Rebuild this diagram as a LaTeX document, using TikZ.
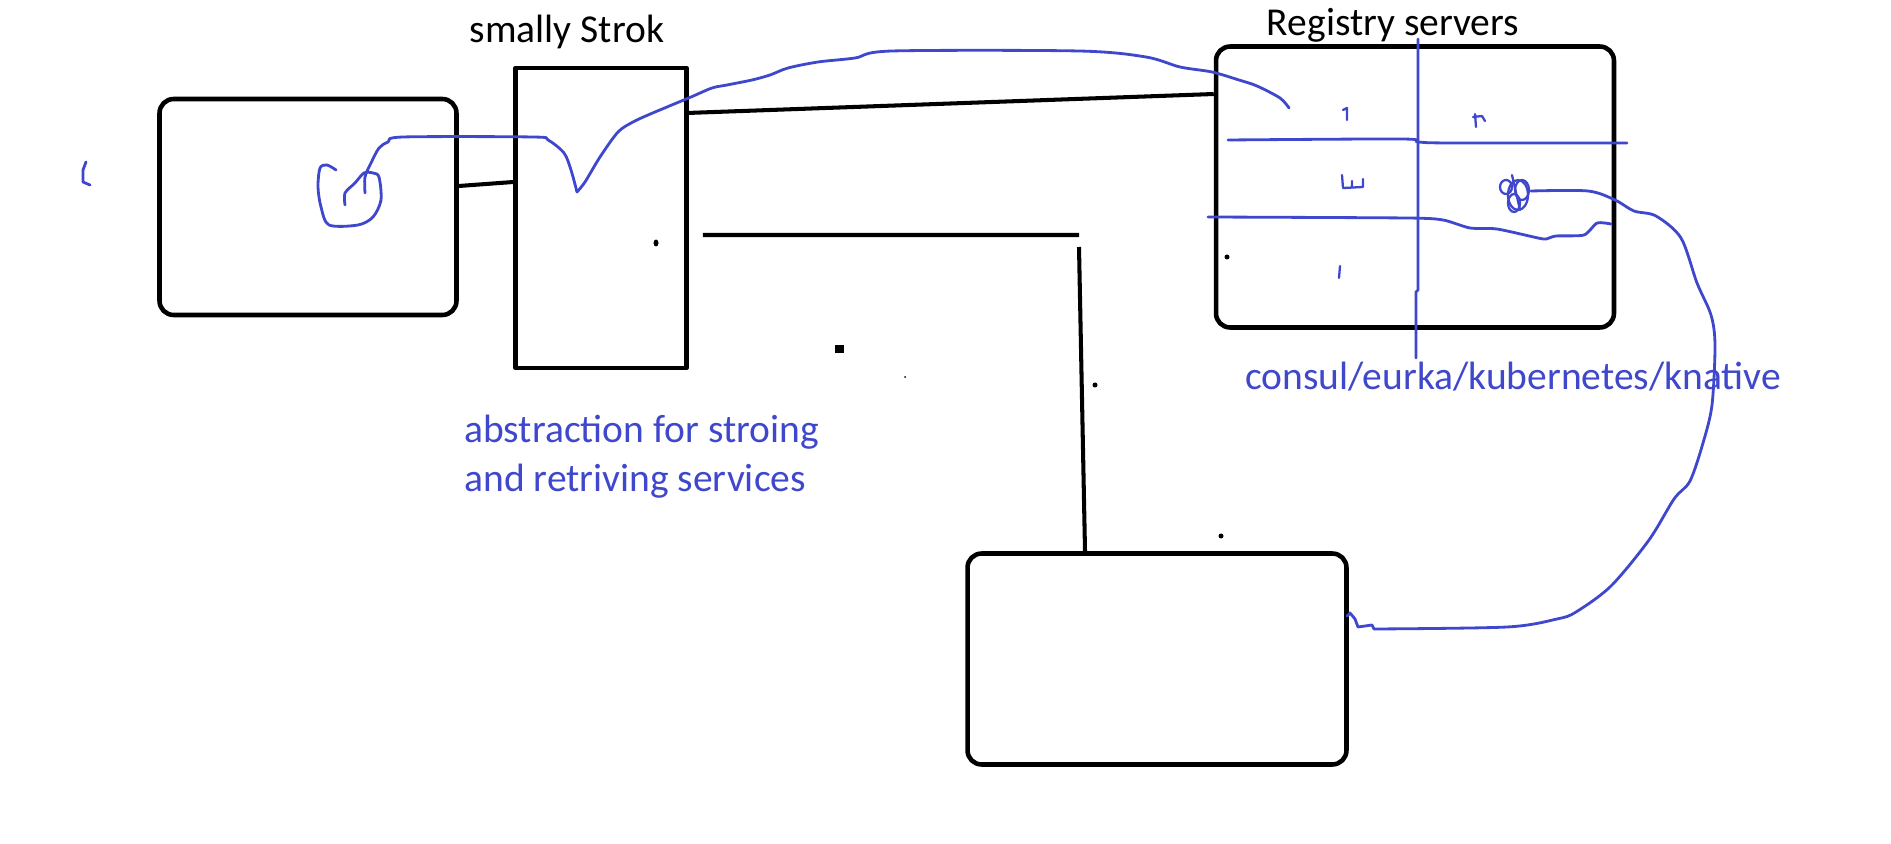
\documentclass[tikz,border=0pt]{standalone}
\usepackage{fontspec}
\setmainfont{Carlito}
\usepackage{tikz}
\usetikzlibrary{positioning}
\definecolor{inkblue}{RGB}{63,72,204}

\begin{document}
\begin{tikzpicture}[x=0.02cm,y=-0.02cm,line join=round,
	box node/.style={draw,line width=2.6pt,rounded corners=0.28cm,inner sep=0pt},
	store node/.style={draw,line width=2.6pt,inner sep=0pt},
	wire/.style={line width=2.3pt},
	blue pen/.style={draw=inkblue,line width=1.6pt,line cap=round},
	title/.style={font=\fontsize{22.5}{27}\selectfont,inner sep=0pt},
	note/.style={title,text=inkblue}]

	\useasboundingbox (0,0) rectangle (1891,844);

	\node[box node,minimum width=5.94cm,minimum height=4.32cm] (client) at (308,207) {};
	\node[store node,minimum width=3.42cm,minimum height=6cm] (store) at (601,218) {};
	\node[box node,minimum width=7.96cm,minimum height=5.62cm] (registry) at (1415,187) {};
	\node[box node,minimum width=7.58cm,minimum height=4.22cm] (service) at (1157,659) {};

	\node[title,anchor=base] (storetitle) at (567,43) {smally Strok};
	\node[title,anchor=base] (regtitle) at (1393,36) {Registry servers};
	\node[note,anchor=base] (regnote) at (1513,390) {consul/eurka/kubernetes/knative};
	\node[note,anchor=base west] (note1) at (464,443) {abstraction for stroing};
	\node[note,anchor=base west] (note2) at (464,492) {and retriving services};

	\coordinate (elbow) at (1079,235);
	\draw[wire] ([yshift=0.42cm]client.east) -- ([yshift=0.72cm]store.west);
	\draw[wire] ([xshift=-0.05cm,yshift=2.1cm]store.east) -- ([yshift=1.86cm]registry.west);
	\draw[wire] ([xshift=0.28cm,yshift=-0.34cm]store.east) -- (elbow);
	\draw[wire] ([yshift=-0.24cm]elbow) -- ([xshift=-1.44cm]service.north);

	\draw[blue pen] plot[smooth,tension=0.5] coordinates {(336,170) (327,165) (320,168) (318,187) (321,207) (329,225) (358,225) (373,217) (381,200) (379,177) (373,173) (364,173) (355,183) (345,193) (345,205)};
	\draw[blue pen] plot[smooth,tension=0.5] coordinates {(365,193) (365,177) (371,163) (379,148) (388,142) (403,137) (533,137) (548,140) (564,153) (571,170) (577,192)};
	\draw[blue pen] plot[smooth,tension=0.5] coordinates {(577,192) (585,182) (600,157) (618,132) (633,122) (648,115) (667,107) (691,97) (712,88) (727,85) (752,80) (770,75) (788,68) (818,62) (855,58) (892,51) (1079,51) (1146,57) (1180,67) (1212,72) (1239,80) (1257,86) (1280,98) (1289,108)};
	\draw[blue pen] (86,162) -- (83,170) -- (83,182) -- (90,185);

	\draw[blue pen] (1418,39) -- (1418,290) -- (1416,292) -- (1416,358);
	\draw[blue pen] plot[smooth,tension=0.5] coordinates {(1228,140) (1402,139) (1418,142) (1452,143) (1627,143)};
	\draw[blue pen] plot[smooth,tension=0.4] coordinates {(1208,217) (1407,218) (1443,220) (1470,228) (1497,229) (1538,238) (1546,239) (1556,236) (1584,235) (1597,223) (1611,224)};

	\draw[blue pen,line width=1.3pt] (1343,110) -- (1347,108) -- (1347,120);
	\draw[blue pen,line width=1.3pt] (1475,114) -- (1476,127) (1473,117) -- (1482,116) -- (1485,121);
	\draw[blue pen,line width=1.3pt] (1342,175) -- (1343,188) -- (1363,187) -- (1363,179) (1352,181) -- (1352,187);
	\draw[blue pen,line width=1.3pt] (1340,266) -- (1339,278);

	\draw[blue pen,line width=1.3pt] (1506,187) ellipse [x radius=0.12cm,y radius=0.14cm];
	\draw[blue pen,line width=1.3pt] (1518,195) ellipse [x radius=0.2cm,y radius=0.3cm];
	\draw[blue pen,line width=1.3pt] (1522,190) ellipse [x radius=0.14cm,y radius=0.2cm];
	\draw[blue pen,line width=1.3pt] (1514,203) ellipse [x radius=0.12cm,y radius=0.18cm];
	\draw[blue pen,line width=1.3pt] (1512,175) -- (1520,210);
	\draw[blue pen] plot[smooth,tension=0.5] coordinates {(1531,191) (1588,191) (1615,200) (1634,211) (1656,216) (1681,238) (1697,283) (1711,315) (1715,345) (1712,405) (1703,443) (1690,481) (1674,499) (1649,540) (1611,586) (1576,612) (1557,619) (1507,627) (1374,629)};
	\draw[blue pen] (1374,629) -- (1372,625) -- (1358,627) -- (1355,619) -- (1350,613) -- (1347,616);

	\fill (656,243) ellipse [x radius=0.05cm,y radius=0.07cm];
	\fill (1095,385) circle [radius=0.05cm];
	\fill (1221,536) circle [radius=0.05cm];
	\fill (1227,257) circle [radius=0.05cm];
	\fill (905,377) circle [radius=0.02cm];
	\fill (835,345) rectangle (844,353);
\end{tikzpicture}
\end{document}
